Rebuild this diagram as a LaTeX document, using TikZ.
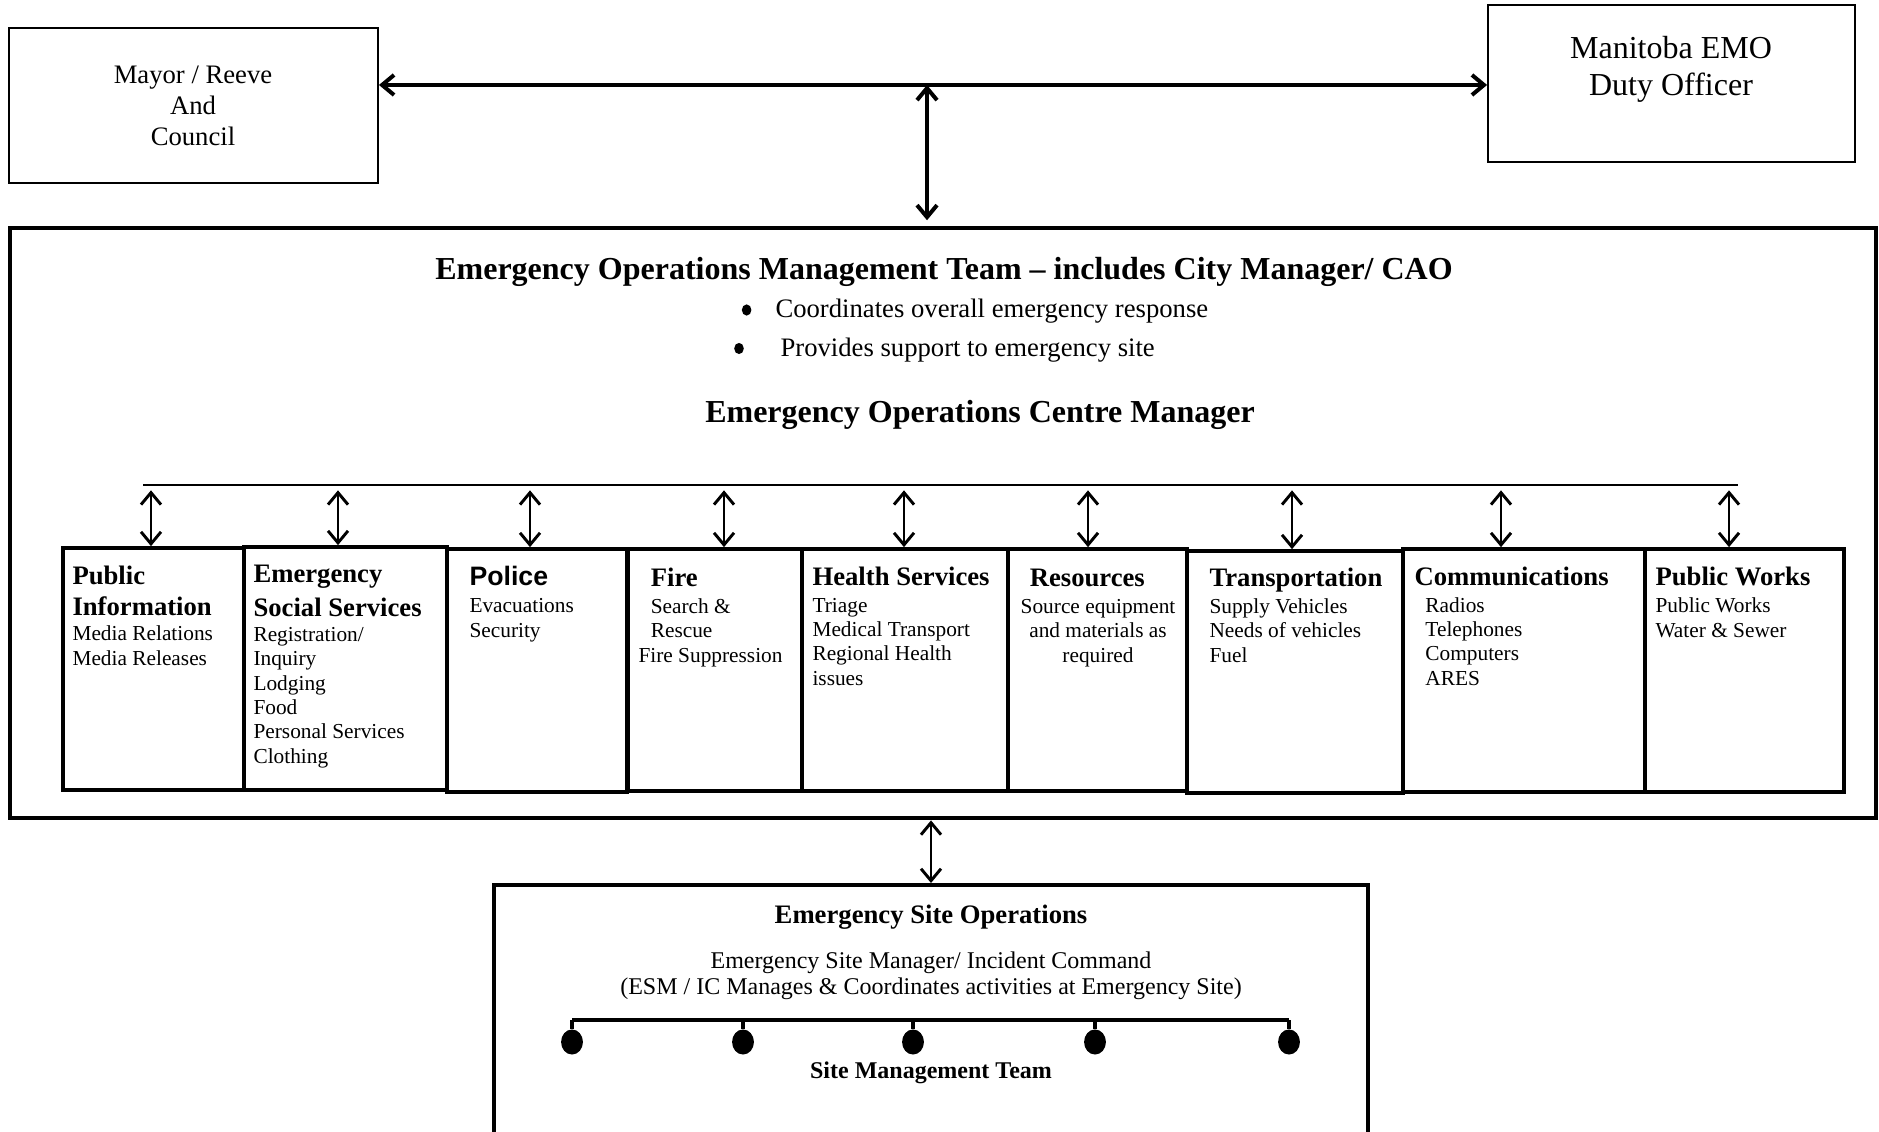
\documentclass[tikz,border=0pt]{standalone}
\usepackage{fontspec}
\setmainfont{Liberation Serif}
\newfontfamily\arialfont{Liberation Sans}
\usetikzlibrary{arrows.meta,fit,shapes.geometric}

\newcommand{\unithead}{\fontsize{10}{11.6}\selectfont\bfseries}

\tikzset{
  outerbox/.style={draw, line width=0.7pt, inner sep=0pt},
  teambox/.style={draw, line width=1.8pt, inner sep=0pt},
  unitbox/.style={draw, line width=1.4pt, inner sep=0pt},
  link/.style={line width=1.1pt, {Straight Barb[length=4.5pt,width=7.5pt]}-{Straight Barb[length=4.5pt,width=7.5pt]}},
  biglink/.style={link, line width=1.5pt},
  unittext/.style={anchor=base west, align=left, inner sep=0pt, font=\fontsize{8}{9.1}\selectfont},
  dot/.style={ellipse, fill, inner sep=0pt, minimum width=8.2pt, minimum height=9.4pt},
  bullet/.style={ellipse, fill, inner sep=0pt, minimum width=3.6pt, minimum height=4.2pt},
}

\begin{document}
\begin{tikzpicture}[x=0.375pt,y=-0.375pt]
\useasboundingbox (0,0) rectangle (1879,1132);

% top level
\node[outerbox, fit={(9,28) (378,183)}] (mayor) {};
\node[anchor=base, align=center, font=\fontsize{10}{11.8}\selectfont] (mayor-t) at (193,146) {Mayor / Reeve\\And\\Council};
\node[outerbox, fit={(1488,5) (1855,162)}] (emo) {};
\node[anchor=base, align=center, font=\fontsize{12}{13.9}\selectfont] (emo-t) at (1671,96) {Manitoba EMO\\Duty Officer};

% management team
\node[teambox, fit={(10,228) (1876,818)}] (eomt) {};
\node[anchor=base, font=\fontsize{12}{14}\selectfont\bfseries] (eomt-t) at (944,280) {Emergency Operations Management Team – includes City Manager/ CAO};
\node[bullet] (b1) at (746.6,310) {};
\node[anchor=base west, inner sep=0pt, font=\fontsize{10}{12}\selectfont] (task1) at (775,318) {Coordinates overall emergency response};
\node[bullet] (b2) at (739,348.5) {};
\node[anchor=base west, inner sep=0pt, font=\fontsize{10}{12}\selectfont] (task2) at (780,357) {Provides support to emergency site};
\node[anchor=base, font=\fontsize{12}{14}\selectfont\bfseries] (eocm) at (980,423) {Emergency Operations Centre Manager};

\coordinate (hub) at (927,85);
\draw[biglink] (mayor.east |- hub) -- (emo.west |- hub);
\draw[biglink, shorten >=2pt] (hub) -- (hub |- eomt.north);

% functions
\coordinate (busL) at (143,485);
\coordinate (busR) at (1738,485);
\draw[line width=1pt] (busL) -- (busR);

\node[unitbox, fit={(63,548) (244,790)}] (pinfo) {};
\node[unitbox, fit={(244,547) (447,790)}] (ess) {};
\node[unitbox, fit={(447,549) (627,792)}] (police) {};
\node[unitbox, fit={(628,549) (802,791)}] (fire) {};
\node[unitbox, fit={(802,549) (1008,791)}] (health) {};
\node[unitbox, fit={(1008,549) (1187,791)}] (res) {};
\node[unitbox, fit={(1187,551) (1403,793)}] (trans) {};
\node[unitbox, fit={(1403,549) (1645,792)}] (comm) {};
\node[unitbox, fit={(1645,549) (1844,792)}] (pworks) {};

\foreach \x/\u in {151/pinfo, 338/ess, 530/police, 724/fire, 904/health, 1088/res, 1292/trans, 1501/comm, 1729/pworks} {
  \coordinate (tap-\u) at (\x,485);
  \draw[link, shorten <=2pt] (tap-\u) -- (tap-\u |- \u.north);
}

% anchor=base is the last line of each block
\node[unittext] (pinfo-t) at (72,665) {{\unithead Public}\\[2.5pt]{\unithead Information}\\[0.3pt]Media Relations\\Media Releases};
\node[unittext] (ess-t) at (253,763) {{\unithead Emergency}\\[2.5pt]{\unithead Social Services}\\[0.3pt]Registration/\\Inquiry\\Lodging\\Food\\Personal Services\\Clothing};
\node[unittext] (police-t) at (469,637) {{\unithead\arialfont Police}\\[1pt]Evacuations\\Security};
\node[unittext] (fire-t) at (638,662) {\hspace*{4.6pt}{\unithead Fire}\\[1pt]\hspace*{4.6pt}Search \&\\\hspace*{4.6pt}Rescue\\Fire Suppression};
\node[unittext] (health-t) at (812,685) {{\unithead Health Services}\\[1pt]Triage\\Medical Transport\\Regional Health\\issues};
\node[unittext, anchor=base, align=center] (res-t) at (1098,662) {{\unithead Resources}\hspace*{8pt}\\[1pt]Source equipment\\and materials as\\required};
\node[unittext] (trans-t) at (1209,662) {{\unithead Transportation}\\[1pt]Supply Vehicles\\Needs of vehicles\\Fuel};
\node[unittext] (comm-t) at (1414,685) {{\unithead Communications}\\[1pt]\hspace*{4.1pt}Radios\\\hspace*{4.1pt}Telephones\\\hspace*{4.1pt}Computers\\\hspace*{4.1pt}ARES};
\node[unittext] (pworks-t) at (1655,637) {{\unithead Public Works}\\[1pt]Public Works\\Water \& Sewer};

% site
\node[unitbox, line width=1.5pt, fit={(494,885) (1368,1160)}] (site) {};
\draw[link] (site.north |- eomt.south) -- (site.north);
\node[anchor=base, font=\fontsize{10}{12}\selectfont\bfseries] (site-t) at (931,923) {Emergency Site Operations};
\node[anchor=base, align=center, font=\fontsize{9}{9.6}\selectfont] (esm) at (931,994) {Emergency Site Manager/ Incident Command\\(ESM / IC Manages \& Coordinates activities at Emergency Site)};
\coordinate (teamL) at (572,1020);
\coordinate (teamR) at (1289,1020);
\draw[line width=1.2pt] (teamL) -- (teamR);
\foreach \x [count=\i] in {572,743,913,1095,1289} {
  \node[dot] (d\i) at (\x,1042) {};
  \coordinate (t\i) at (\x,1020);
  \draw[line width=1.2pt] (t\i) -- (d\i.north);
}
\node[anchor=base, font=\fontsize{9}{11}\selectfont\bfseries] (smt) at (931,1078) {Site Management Team};
\end{tikzpicture}
\end{document}
